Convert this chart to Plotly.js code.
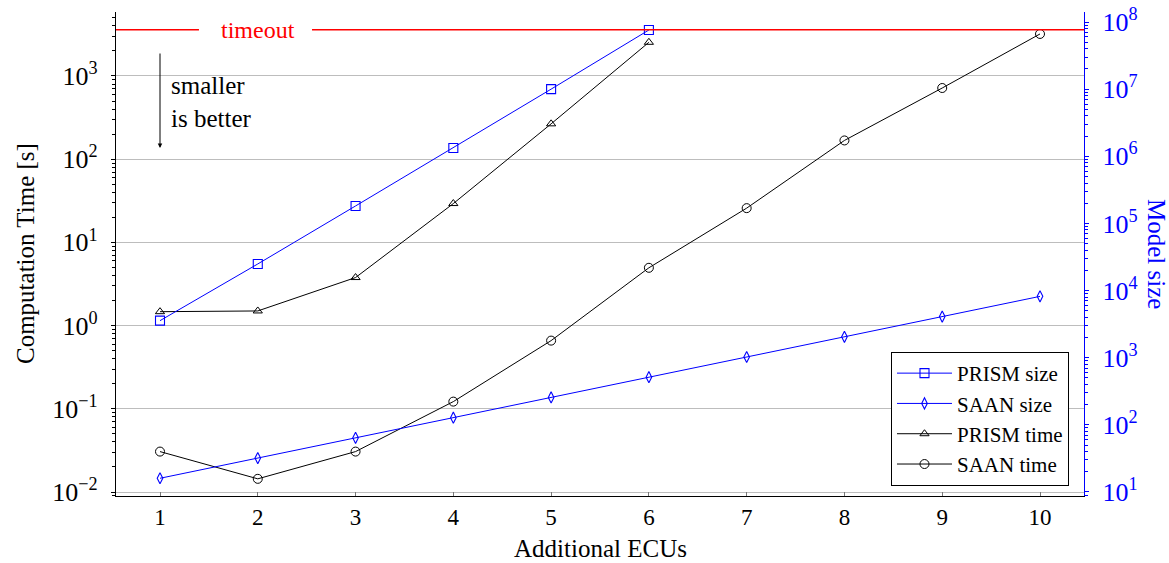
<!DOCTYPE html>
<html><head><meta charset="utf-8">
<script src="https://cdn.plot.ly/plotly-3.0.1.min.js"></script>
<style>html,body{margin:0;padding:0;background:#fff;}</style>
</head><body>
<div id="chart" style="width:1169px;height:563px"></div>
<script>
// ---- data ----
const ecus = [1, 2, 3, 4, 5, 6, 7, 8, 9, 10];
const prismEcus = [1, 2, 3, 4, 5, 6];
const prismSize = [3560, 24900, 182000, 1330000, 10000000, 76000000];
const saanSize = [16, 32, 64, 128, 256, 512, 1024, 2048, 4096, 8192];
const prismTime = [1.47, 1.50, 3.78, 29.3, 266, 2540];
const saanTime = [0.0306, 0.0144, 0.0306, 0.122, 0.66, 4.95, 25.8, 168, 717, 3200];
const timeoutSeconds = 3600;
const leftExponents = [-2, -1, 0, 1, 2, 3];
const rightExponents = [1, 2, 3, 4, 5, 6, 7, 8];
const seriesNames = ['PRISM size', 'SAAN size', 'PRISM time', 'SAAN time'];

// ---- styling ----
const FONT = '"Liberation Serif", "Times New Roman", serif';
const BLUE = '#0000ff';
const RED = '#ff0000';
const leftRange = [-2.048, 3.769];
const rightRange = [0.94, 8.149];
const xRange = [0.55, 10.45];

function powText(e) { return '10<sup>' + (e < 0 ? '\u2212' + Math.abs(e) : e) + '</sup>'; }

const traces = [
  { x: prismEcus, y: prismSize, name: seriesNames[0], yaxis: 'y2', type: 'scatter', mode: 'lines+markers',
    line: { color: BLUE, width: 1 }, marker: { symbol: 'square-open', size: 9, color: BLUE, line: { width: 1.1, color: BLUE } } },
  { x: ecus, y: saanSize, name: seriesNames[1], yaxis: 'y2', type: 'scatter', mode: 'lines+markers',
    line: { color: BLUE, width: 1 }, marker: { symbol: 'diamond-tall-open', size: 8, color: BLUE, line: { width: 1.1, color: BLUE } } },
  { x: prismEcus, y: prismTime, name: seriesNames[2], type: 'scatter', mode: 'lines+markers',
    line: { color: '#000', width: 1 }, marker: { symbol: 'triangle-up-open', size: 8, color: '#000', line: { width: 1, color: '#000' } } },
  { x: ecus, y: saanTime, name: seriesNames[3], type: 'scatter', mode: 'lines+markers',
    line: { color: '#000', width: 1 }, marker: { symbol: 'circle-open', size: 9, color: '#000', line: { width: 1, color: '#000' } } }
];

const minorOut = (c) => ({ dtick: 'D1', ticks: 'outside', ticklen: 3, tickcolor: c, tickwidth: 1, showgrid: false });
const minorIn = (c) => ({ dtick: 'D1', ticks: 'inside', ticklen: 3, tickcolor: c, tickwidth: 1, showgrid: false });

const layout = {
  width: 1169, height: 563,
  margin: { l: 116, r: 85, t: 12, b: 67 },
  paper_bgcolor: '#fff', plot_bgcolor: '#fff',
  font: { family: FONT, size: 24, color: '#000' },
  showlegend: true,
  legend: {
    x: 0.9845, xanchor: 'right', y: 0.0207, yanchor: 'bottom',
    bordercolor: '#000', borderwidth: 1, bgcolor: '#fff',
    font: { family: FONT, size: 21, color: '#000' }, itemwidth: 55, tracegroupgap: 0
  },
  xaxis: {
    range: xRange, tickmode: 'array', tickvals: ecus, ticktext: ecus.map(String),
    ticks: 'inside', ticklen: 4, tickcolor: '#777', tickwidth: 1,
    showline: true, linecolor: '#000', linewidth: 1.2, mirror: false,
    showgrid: false, zeroline: false, ticklabelstandoff: 0,
    tickfont: { family: FONT, size: 23, color: '#000' }
  },
  xaxis2: {
    overlaying: 'x', anchor: 'y', side: 'bottom', range: xRange,
    tickmode: 'array', tickvals: ecus, ticks: 'outside', ticklen: 4, tickcolor: '#777', tickwidth: 1,
    showticklabels: false, showline: false, showgrid: false, zeroline: false
  },
  yaxis: {
    type: 'log', range: leftRange, tickmode: 'array',
    tickvals: leftExponents.map(e => Math.pow(10, e)), ticktext: leftExponents.map(powText),
    ticks: 'outside', ticklen: 4, tickcolor: '#000', tickwidth: 1,
    minor: minorOut('#000'),
    showline: true, linecolor: '#000', linewidth: 1.2,
    showgrid: true, gridcolor: '#bdbdbd', gridwidth: 1, zeroline: false,
    ticklabelstandoff: 8,
    tickfont: { family: FONT, size: 26, color: '#000' }
  },
  yaxis3: {
    type: 'log', range: leftRange, overlaying: 'y', anchor: 'x', side: 'left',
    tickmode: 'array', tickvals: leftExponents.map(e => Math.pow(10, e)),
    ticks: 'inside', ticklen: 4, tickcolor: '#000', tickwidth: 1,
    minor: minorIn('#000'), showticklabels: false, showline: false, showgrid: false, zeroline: false
  },
  yaxis2: {
    type: 'log', range: rightRange, overlaying: 'y', anchor: 'x', side: 'right',
    tickmode: 'array', tickvals: rightExponents.map(e => Math.pow(10, e)), ticktext: rightExponents.map(powText),
    ticks: 'outside', ticklen: 4, tickcolor: BLUE, tickwidth: 1,
    minor: minorOut(BLUE),
    showline: true, linecolor: BLUE, linewidth: 1.2, showgrid: false, zeroline: false,
    ticklabelstandoff: 8,
    tickfont: { family: FONT, size: 26, color: BLUE }
  },
  yaxis4: {
    type: 'log', range: rightRange, overlaying: 'y', anchor: 'x', side: 'right',
    tickmode: 'array', tickvals: rightExponents.map(e => Math.pow(10, e)),
    ticks: 'inside', ticklen: 4, tickcolor: BLUE, tickwidth: 1,
    minor: minorIn(BLUE), showticklabels: false, showline: false, showgrid: false, zeroline: false
  },
  shapes: [
    { type: 'line', xref: 'paper', yref: 'y', x0: 0, x1: 0.0857,
      y0: timeoutSeconds, y1: timeoutSeconds, line: { color: RED, width: 1.5 } },
    { type: 'line', xref: 'paper', yref: 'y', x0: 0.2025, x1: 1,
      y0: timeoutSeconds, y1: timeoutSeconds, line: { color: RED, width: 1.5 } }
  ],
  annotations: [
    { text: 'timeout', xref: 'paper', yref: 'y', x: 0.1467, y: Math.log10(timeoutSeconds),
      xanchor: 'center', yanchor: 'middle', showarrow: false, font: { family: FONT, size: 24, color: RED } },
    { text: 'smaller<br>is better', xref: 'paper', yref: 'paper', x: 0.0548, y: 0.815,
      xanchor: 'left', yanchor: 'middle', align: 'left', showarrow: false, font: { family: FONT, size: 25, color: '#000' } },
    { text: '', xref: 'x', yref: 'paper', x: ecus[0], y: 0.719, ax: 0, ay: -96,
      showarrow: true, arrowhead: 2, arrowsize: 0.9, arrowwidth: 1, arrowcolor: '#000', standoff: 0, startstandoff: 0 },
    { text: 'Computation Time [s]', xref: 'paper', yref: 'paper', x: -0.094, y: 0.5, textangle: -90,
      xanchor: 'center', yanchor: 'middle', showarrow: false, font: { family: FONT, size: 25, color: '#000' } },
    { text: 'Model size', xref: 'paper', yref: 'paper', x: 1.0754, y: 0.5, textangle: 90,
      xanchor: 'center', yanchor: 'middle', showarrow: false, font: { family: FONT, size: 25, color: BLUE } },
    { text: 'Additional ECUs', xref: 'paper', yref: 'paper', x: 0.5, y: -0.1095,
      xanchor: 'center', yanchor: 'middle', showarrow: false, font: { family: FONT, size: 25, color: '#000' } }
  ]
};

Plotly.newPlot('chart', traces, layout, { staticPlot: true, displayModeBar: false });
</script>
</body></html>
